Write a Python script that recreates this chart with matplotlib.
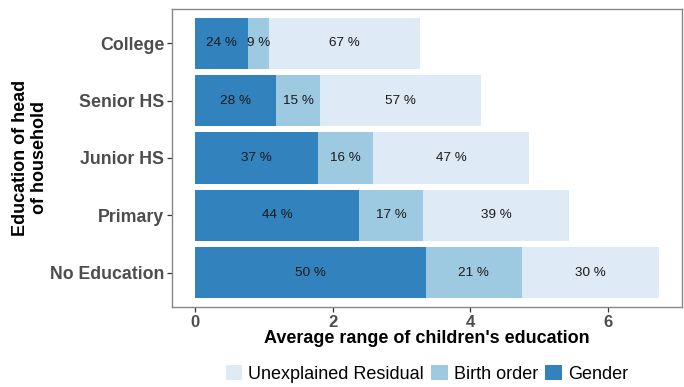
import matplotlib
matplotlib.use("Agg")
import matplotlib.pyplot as plt
from matplotlib.patches import Patch
import numpy as np

plt.rcParams['font.family'] = ['Liberation Sans', 'DejaVu Sans']

categories = ["No Education", "Primary", "Junior HS", "Senior HS", "College"]
gender = [3.35, 2.38, 1.79, 1.18, 0.775]
birth_order = [1.40, 0.93, 0.80, 0.63, 0.30]
residual = [1.99, 2.13, 2.27, 2.35, 2.195]
gender_pct = [50, 44, 37, 28, 24]
birth_pct = [21, 17, 16, 15, 9]
resid_pct = [30, 39, 47, 57, 67]
xticks = [0, 2, 4, 6]

c_gender = "#3182bd"
c_birth = "#9ecae1"
c_resid = "#deebf7"

fig = plt.figure(figsize=(6.84, 3.87), dpi=100)
ax = fig.add_axes([172/684, 1-307/387, 510/684, 298/387])

y = np.arange(len(categories)) + 1
g = np.array(gender)
b = np.array(birth_order)
r = np.array(residual)
ax.barh(y, g, height=0.9, color=c_gender, linewidth=0)
ax.barh(y, b, left=g, height=0.9, color=c_birth, linewidth=0)
ax.barh(y, r, left=g + b, height=0.9, color=c_resid, linewidth=0)

for i in range(len(categories)):
    ax.text(g[i]/2, y[i], f"{gender_pct[i]} %", ha='center', va='center', fontsize=9.7, color='#1a1a1a')
    ax.text(g[i] + b[i]/2, y[i], f"{birth_pct[i]} %", ha='center', va='center', fontsize=9.7, color='#1a1a1a')
    ax.text(g[i] + b[i] + r[i]/2, y[i], f"{resid_pct[i]} %", ha='center', va='center', fontsize=9.7, color='#1a1a1a')

total = (g + b + r).max()
ax.set_xlim(-0.05*total, total*1.05)
ax.set_ylim(0.4, len(categories) + 0.6)
ax.set_xticks(xticks)
ax.set_xticklabels([str(t) for t in xticks])
ax.set_yticks(y)
ax.set_yticklabels(categories)
for lab in ax.get_xticklabels():
    lab.set_fontweight('bold')
    lab.set_fontsize(12)
    lab.set_color('#4d4d4d')
for lab in ax.get_yticklabels():
    lab.set_fontweight('bold')
    lab.set_fontsize(12.8)
    lab.set_color('#4d4d4d')
ax.tick_params(axis='both', length=3.5, width=0.9, color='#333333', pad=2)

for s in ax.spines.values():
    s.set_color('#888888')
    s.set_linewidth(1.0)

ax.set_xlabel("Average range of children's education", fontsize=13, fontweight='bold')
ax.xaxis.set_label_coords(0.5, -(343-307)/298)
ax.xaxis.label.set_va('baseline')
ax.set_ylabel("Education of head\nof household", fontsize=13, fontweight='bold', multialignment='center')
ax.yaxis.set_label_coords((30-172)/510, 0.5)
ax.yaxis.label.set_va('center')

handles = [Patch(facecolor=c_resid, edgecolor='none', label='Unexplained Residual'),
           Patch(facecolor=c_birth, edgecolor='none', label='Birth order'),
           Patch(facecolor=c_gender, edgecolor='none', label='Gender')]
fig.legend(handles=handles, loc='center', bbox_to_anchor=(427/684, 1-374/387), ncol=3,
           frameon=False, fontsize=13, handlelength=0.9, handleheight=0.9,
           handletextpad=0.35, columnspacing=0.4, borderpad=0, borderaxespad=0)

fig.savefig("out.png", dpi=100)
